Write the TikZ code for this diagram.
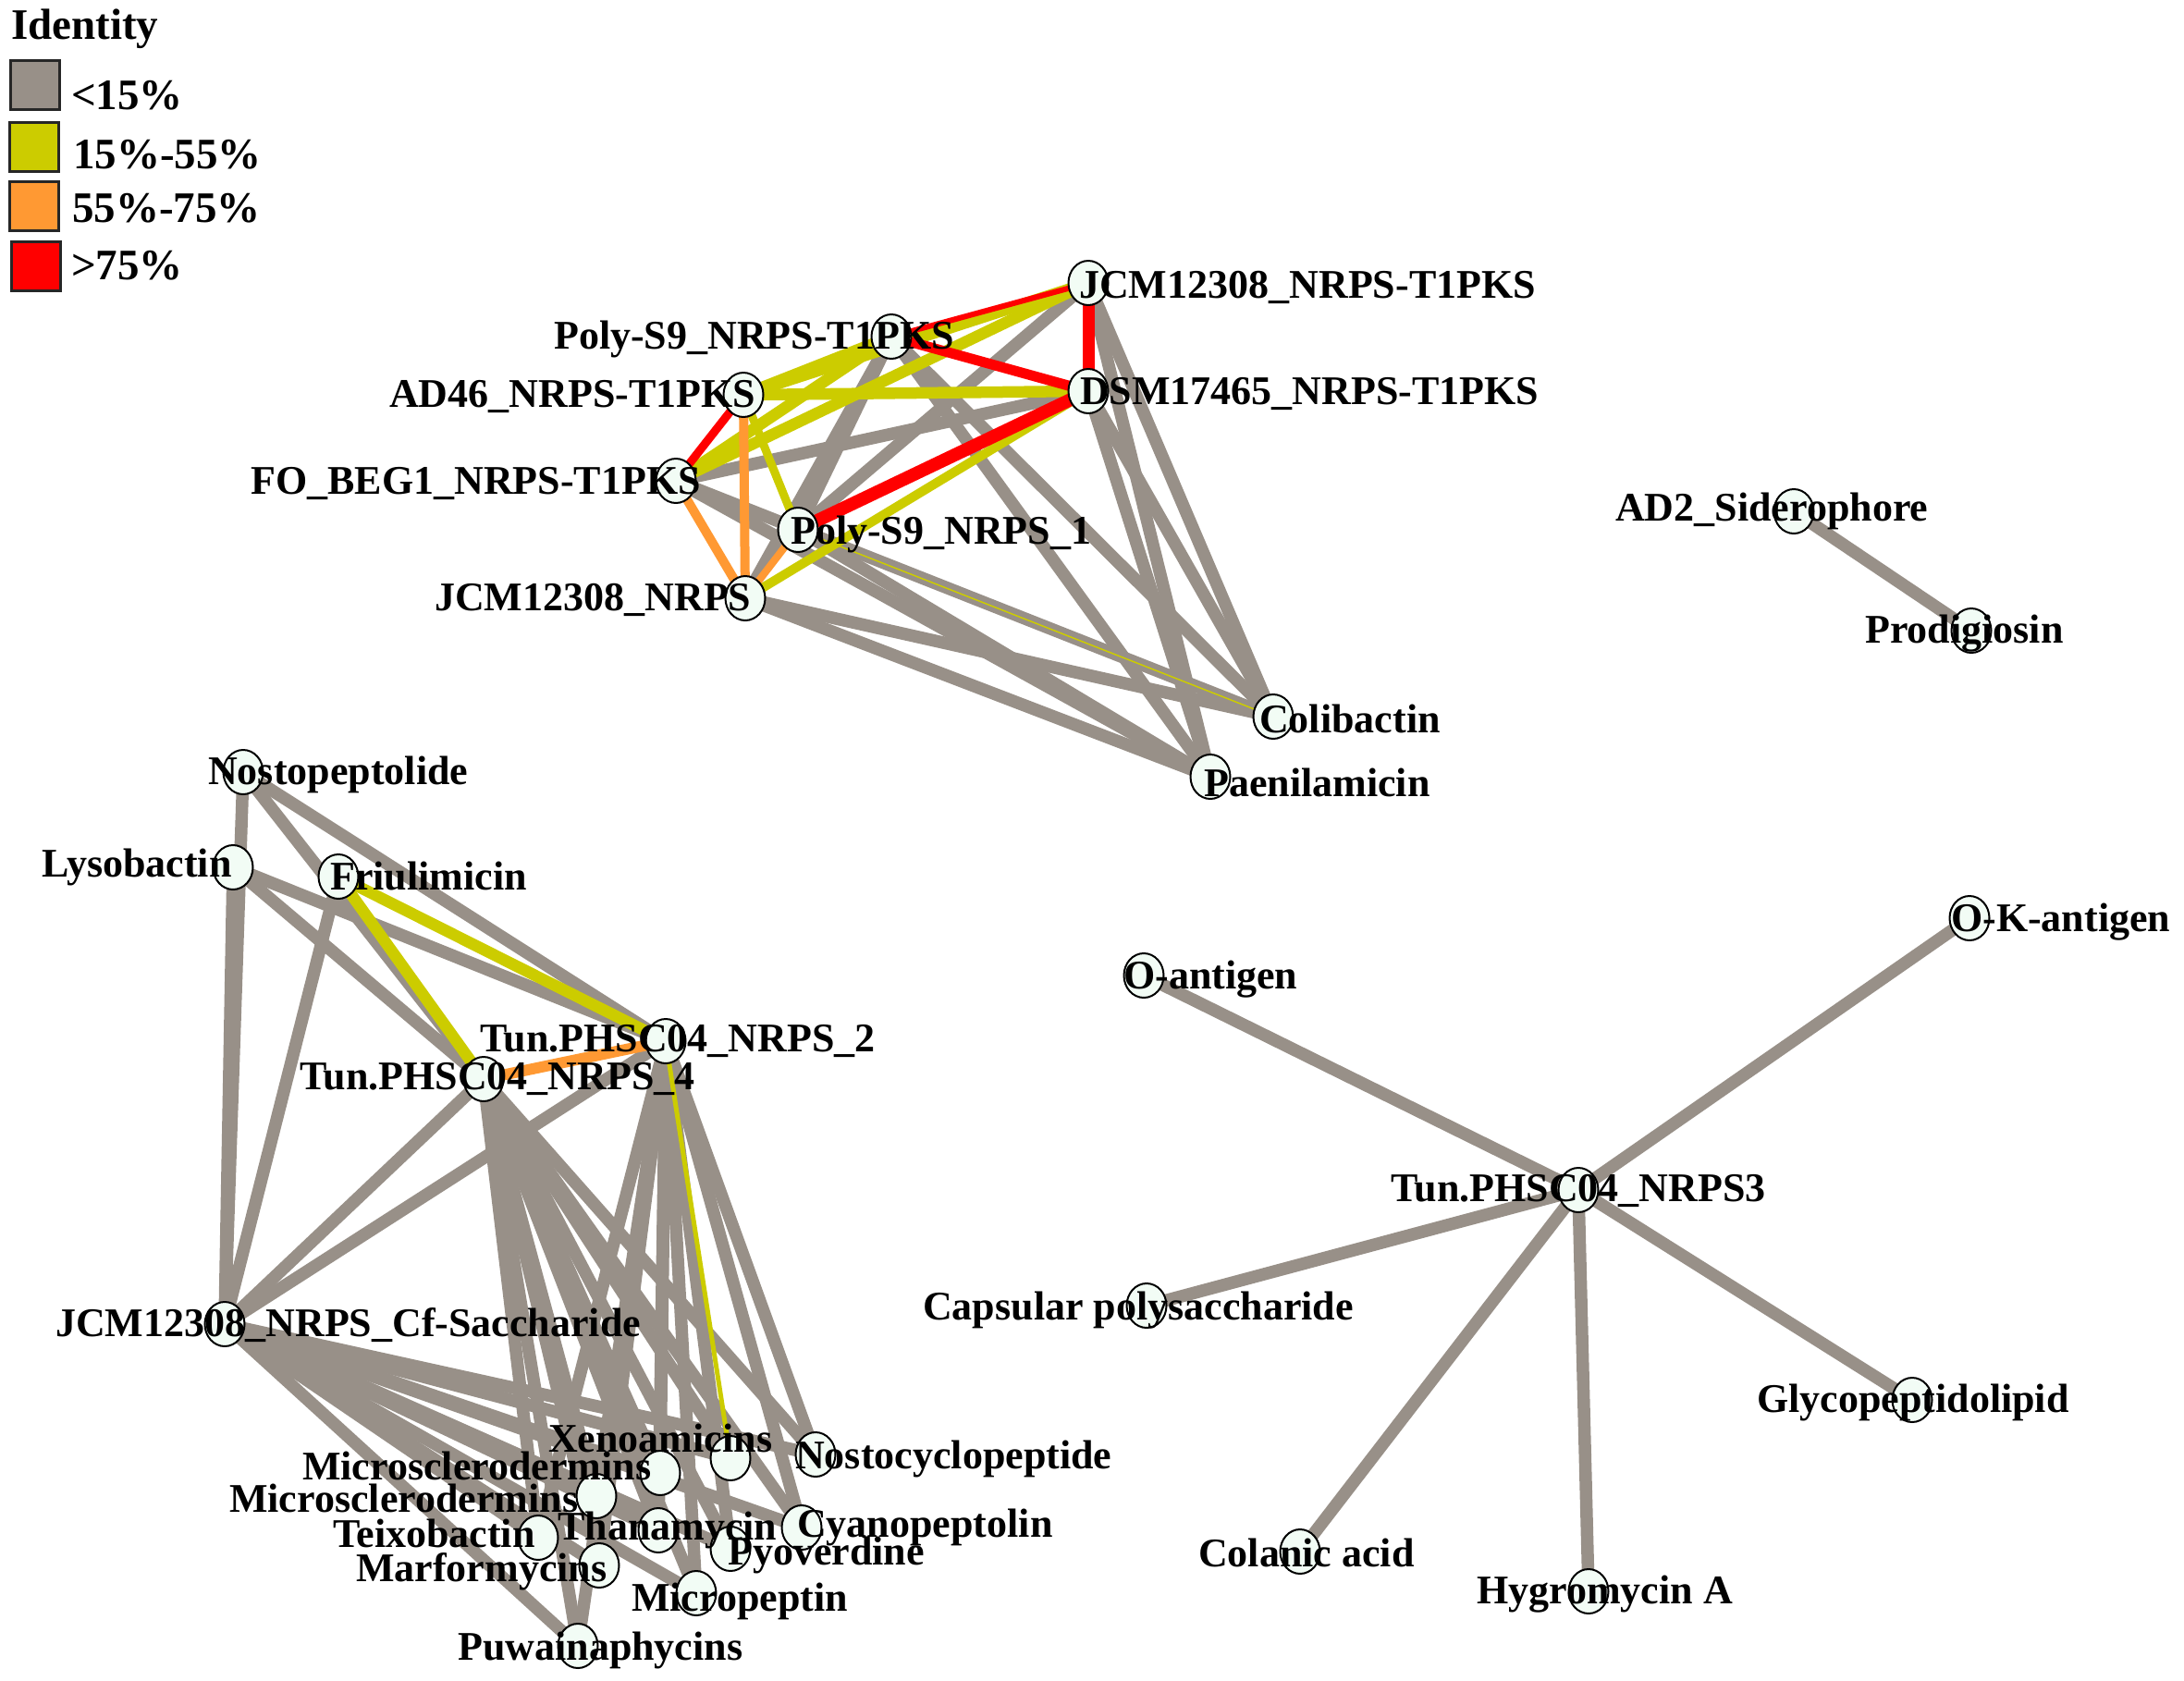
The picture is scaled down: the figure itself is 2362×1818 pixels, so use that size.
\documentclass[tikz,border=0pt]{standalone}
\usepackage{fontspec}
\setmainfont{Liberation Serif}
\usetikzlibrary{shapes.geometric}
\definecolor{cgray}{HTML}{989088}
\definecolor{cyellow}{HTML}{CCCC00}
\definecolor{corange}{HTML}{FF9933}
\definecolor{cred}{HTML}{FF0000}
\definecolor{nodefill}{HTML}{F2FCF5}
\pgfdeclarelayer{bg}
\pgfdeclarelayer{fg}
\pgfsetlayers{bg,main,fg}
\begin{document}
\begin{tikzpicture}[x=1pt,y=-1pt,
  nd/.style={ellipse, draw=black, line width=2pt, fill=nodefill, minimum width=43pt, minimum height=48pt, inner sep=0pt},
  lbl/.style={anchor=base west, inner sep=0pt, font=\fontsize{44}{48}\selectfont\bfseries},
  leglbl/.style={anchor=base west, inner sep=0pt, font=\fontsize{47}{50}\selectfont\bfseries},
  legbox/.style={draw=black!85, line width=3pt, minimum width=53pt, minimum height=53pt, inner sep=0pt},
  eg/.style={draw=cgray, line width=13.5pt},
  ey/.style={draw=cyellow, line width=12.5pt},
  eo/.style={draw=corange, line width=10pt},
  er/.style={draw=cred, line width=12pt}
]
\useasboundingbox (0,0) rectangle (2362,1818);

% legend
\node[leglbl] (legT) at (12,42) {Identity};
\node[legbox, fill=cgray] (k1) at (38,91.5) {};
\node[legbox, fill=cyellow] (k2) at (37,158.5) {};
\node[legbox, fill=corange] (k3) at (37,223) {};
\node[legbox, fill=cred] (k4) at (38.5,287.5) {};
\node[leglbl] (kt1) at (77,118) {<15\%};
\node[leglbl] (kt2) at (79,182) {15\%-55\%};
\node[leglbl] (kt3) at (78,240) {55\%-75\%};
\node[leglbl] (kt4) at (77,302) {>75\%};

% nodes: top cluster
\node[nd] (nJa) at (1177,306) {};
\node[nd] (nPa) at (964,364) {};
\node[nd] (nAD) at (804,427) {};
\node[nd] (nDSM) at (1177,423) {};
\node[nd] (nFO) at (731,520) {};
\node[nd] (nPb) at (863,573) {};
\node[nd] (nJb) at (806,647) {};
\node[nd] (nCol) at (1377,775) {};
\node[nd] (nPae) at (1309,840) {};
\node[nd] (nAD2) at (1940,553) {};
\node[nd] (nPro) at (2132,682) {};
% left cluster
\node[nd] (nNos) at (263,835) {};
\node[nd] (nLys) at (252,938) {};
\node[nd] (nFri) at (366,948) {};
\node[nd] (nT2) at (720,1126) {};
\node[nd] (nT4) at (523,1167) {};
\node[nd] (nCf) at (243,1432) {};
\node[nd] (nXe) at (790,1577) {};
\node[nd] (nMs1) at (714,1593) {};
\node[nd] (nMs2) at (645,1618) {};
\node[nd] (nTe) at (582,1663) {};
\node[nd] (nTh) at (712,1655) {};
\node[nd] (nMa) at (648,1693) {};
\node[nd] (nNc) at (882,1573) {};
\node[nd] (nCy) at (867,1652) {};
\node[nd] (nPy) at (790,1675) {};
\node[nd] (nMi) at (753,1723) {};
\node[nd] (nPu) at (625,1780) {};
% right cluster
\node[nd] (nT3) at (1707,1287) {};
\node[nd] (nOa) at (1237,1055) {};
\node[nd] (nOK) at (2130,993) {};
\node[nd] (nCap) at (1240,1412) {};
\node[nd] (nGly) at (2068,1514) {};
\node[nd] (nColA) at (1406,1678) {};
\node[nd] (nHyg) at (1718,1721) {};

% edges
\begin{pgfonlayer}{bg}
\foreach \a/\b in {nJa/nCol,nJa/nPae,nDSM/nCol,nDSM/nPae,nPa/nCol,nPa/nPae,nPa/nJb,nPa/nPb,
  nFO/nDSM,nPb/nJa,nFO/nCol,nFO/nPae,nPb/nPae,nJb/nCol,nJb/nPae,nAD2/nPro,
  nNos/nCf,nLys/nCf,nNos/nT2,nNos/nT4,nLys/nT2,nLys/nT4,nFri/nCf,nT4/nCf,nT2/nCf,
  nT3/nOa,nT3/nOK,nT3/nCap,nT3/nGly,nT3/nColA,nT3/nHyg}
  \draw[eg] (\a.center) -- (\b.center);
\foreach \a in {nCf,nT4,nT2}
  \foreach \b in {nMs1,nMs2,nTe,nTh,nMa,nNc,nCy,nPy,nMi,nPu}
    \draw[eg] (\a.center) -- (\b.center);
\draw[eg] (nCf.center) -- (nXe.center);
\draw[eg] (nT4.center) -- (nXe.center);
% yellow
\foreach \a/\b in {nPa/nAD,nFO/nPa,nAD/nJa,nFO/nJa,nAD/nDSM,nFri/nT2,nFri/nT4}
  \draw[ey] (\a.center) -- (\b.center);
\draw[ey, line width=10pt] (nJb.center) -- (nDSM.center);
\draw[ey, line width=9pt] (nAD.center) -- (nPb.center);
\draw[ey, line width=5pt] (nT2.center) -- (nXe.center);
\draw[ey, line width=1.5pt] (nPb.center) -- (nCol.center);
% orange
\draw[eo] (nAD.center) -- (nJb.center);
\draw[eo] (nFO.center) -- (nJb.center);
\draw[eo, line width=8pt] (nPb.center) -- (nJb.center);
\draw[eo, line width=12pt] (nT4.center) -- (nT2.center);
% red
\draw[er, line width=13pt] (nJa.center) -- (nDSM.center);
\draw[er, line width=11pt] (nPa.center) -- (nDSM.center);
\draw[er, line width=14pt] (nPb.center) -- (nDSM.center);
\draw[er, line width=9pt] (nAD.center) -- (nFO.center);
\draw[er, line width=6pt] (nPa.center) -- (nJa.center);
\end{pgfonlayer}

% labels
\begin{pgfonlayer}{fg}
\node[lbl] (lJa) at (1167,322) {JCM12308\_NRPS-T1PKS};
\node[lbl] (lDSM) at (1168,437) {DSM17465\_NRPS-T1PKS};
\node[lbl] (lPa) at (599,377) {Poly-S9\_NRPS-T1PKS};
\node[lbl] (lAD) at (421,440) {AD46\_NRPS-T1PKS};
\node[lbl] (lFO) at (271,534) {FO\_BEG1\_NRPS-T1PKS};
\node[lbl] (lPb) at (855,588) {Poly-S9\_NRPS\_1};
\node[lbl] (lJb) at (470,660) {JCM12308\_NRPS};
\node[lbl] (lCol) at (1362,792) {Colibactin};
\node[lbl] (lPae) at (1302,861) {Paenilamicin};
\node[lbl] (lAD2) at (1747,563) {AD2\_Siderophore};
\node[lbl] (lPro) at (2017,695) {Prodigiosin};
\node[lbl] (lNos) at (225,848) {Nostopeptolide};
\node[lbl] (lLys) at (45,948) {Lysobactin};
\node[lbl] (lFri) at (357,962) {Friulimicin};
\node[lbl] (lT2) at (519,1137) {Tun.PHSC04\_NRPS\_2};
\node[lbl] (lT4) at (324,1178) {Tun.PHSC04\_NRPS\_4};
\node[lbl] (lCf) at (60,1445) {JCM12308\_NRPS\_Cf-Saccharide};
\node[lbl] (lXe) at (593,1570) {Xenoamicins};
\node[lbl] (lMs1) at (327,1600) {Microsclerodermins};
\node[lbl] (lMs2) at (248,1635) {Microsclerodermins};
\node[lbl] (lTe) at (360,1673) {Teixobactin};
\node[lbl] (lTh) at (603,1665) {Thanamycin};
\node[lbl] (lMa) at (385,1710) {Marformycins};
\node[lbl] (lPu) at (495,1795) {Puwainaphycins};
\node[lbl] (lNc) at (860,1588) {Nostocyclopeptide};
\node[lbl] (lCy) at (862,1662) {Cyanopeptolin};
\node[lbl] (lPy) at (787,1692) {Pyoverdine};
\node[lbl] (lMi) at (683,1742) {Micropeptin};
\node[lbl] (lCap) at (998,1427) {Capsular polysaccharide};
\node[lbl] (lOa) at (1215,1069) {O-antigen};
\node[lbl] (lOK) at (2110,1007) {O-K-antigen};
\node[lbl] (lT3) at (1504,1299) {Tun.PHSC04\_NRPS3};
\node[lbl] (lGly) at (1900,1527) {Glycopeptidolipid};
\node[lbl] (lColA) at (1296,1694) {Colanic acid};
\node[lbl] (lHyg) at (1597,1734) {Hygromycin A};
\end{pgfonlayer}
\end{tikzpicture}
\end{document}
